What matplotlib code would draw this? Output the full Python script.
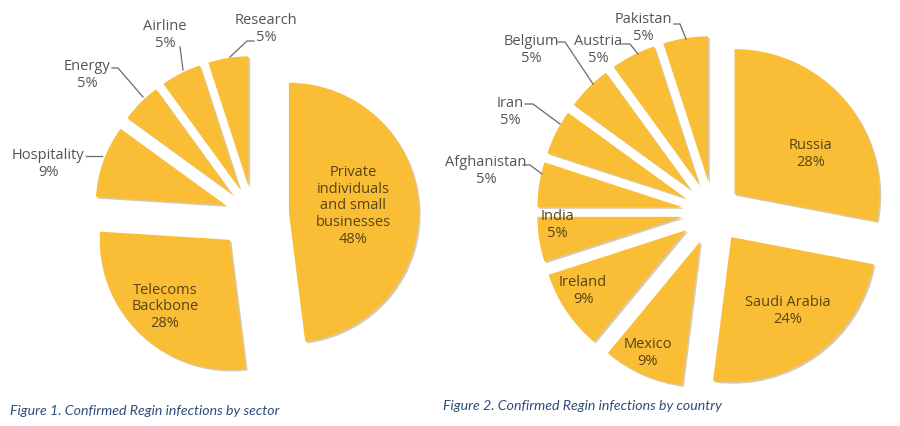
import matplotlib.pyplot as plt

# Figure 1 - infections by sector
sectors = ['Private\nindividuals\nand small\nbusinesses', 'Telecoms\nBackbone',
           'Hospitality', 'Energy', 'Airline', 'Research']
sector_pct = [48, 28, 9, 5, 5, 5]

# Figure 2 - infections by country
countries = ['Russia', 'Saudi Arabia', 'Mexico', 'Ireland', 'India',
             'Afghanistan', 'Iran', 'Belgium', 'Austria', 'Pakistan']
country_pct = [28, 24, 9, 9, 5, 5, 5, 5, 5, 5]

captions = ['Figure 1. Confirmed Regin infections by sector',
            'Figure 2. Confirmed Regin infections by country']

W, H = 900, 427
gold = '#FABD36'
dark = '#564515'
grey = '#555555'
blue = '#2e4c7c'

plt.rcParams['font.family'] = ['Open Sans', 'DejaVu Sans']

fig = plt.figure(figsize=(9, 4.27), dpi=100)
ax = fig.add_axes([0, 0, 1, 1])


def py(y):
    return H - y


shadow = {'ox': 1.2, 'oy': -1.2, 'shade': 0.45, 'alpha': 0.35}

ax.pie(sector_pct, radius=130, center=(253, py(216)), startangle=90,
       counterclock=False, explode=[36, 34, 29, 29, 29, 29],
       colors=[gold] * len(sector_pct), shadow=shadow,
       wedgeprops=dict(linewidth=0))

ax.pie(country_pct, radius=145, center=(713, py(213)), startangle=90,
       counterclock=False, explode=[28, 31, 32, 32, 31, 31, 31, 31, 31, 31],
       colors=[gold] * len(country_pct), shadow=shadow,
       wedgeprops=dict(linewidth=0))

# labels inside the wedges
inside_sector = {0: (353, 206), 1: (165, 307)}
inside_country = {0: (811, 154), 1: (788, 311), 2: (648, 353),
                  3: (583, 291), 4: (557, 225)}
# labels outside, with leader lines
outside_sector = {2: ((48, 164), [(86, 157), (102, 157)]),
                  3: ((87, 75), [(112, 69), (118, 69), (143, 98)]),
                  4: ((165, 35), [(180, 48), (183, 71)]),
                  5: ((266, 29), [(254, 42), (247, 42), (230, 58)])}
outside_country = {5: ((486, 171), [(523, 166), (530, 166), (542, 175)]),
                   6: ((510, 112), [(525, 105), (533, 105), (560, 125)]),
                   7: ((531, 50), [(558, 43), (565, 43), (593, 85)]),
                   8: ((598, 50), [(622, 45), (630, 45), (638, 55)]),
                   9: ((643, 28), [(674, 25), (680, 25), (686, 40)])}

for names, pcts, inside, outside in [(sectors, sector_pct, inside_sector, outside_sector),
                                     (countries, country_pct, inside_country, outside_country)]:
    for i, (x, y) in inside.items():
        ax.text(x, py(y), f'{names[i]}\n{pcts[i]}%', ha='center', va='center',
                fontsize=10.5, color=dark, linespacing=1.15)
    for i, ((x, y), line) in outside.items():
        ax.text(x, py(y), f'{names[i]}\n{pcts[i]}%', ha='center', va='center',
                fontsize=10.5, color=grey, linespacing=1.1)
        ax.plot([p[0] for p in line], [py(p[1]) for p in line], color='#6a6a6a', lw=0.9)

ax.text(10, py(411), captions[0], ha='left', va='center', fontsize=10.2,
        color=blue, style='italic', family='Lato')
ax.text(443, py(406), captions[1], ha='left', va='center', fontsize=10.2,
        color=blue, style='italic', family='Lato')

ax.set_xlim(0, W)
ax.set_ylim(0, H)
ax.set_aspect('equal')
ax.axis('off')

fig.savefig('out.png', dpi=100)
